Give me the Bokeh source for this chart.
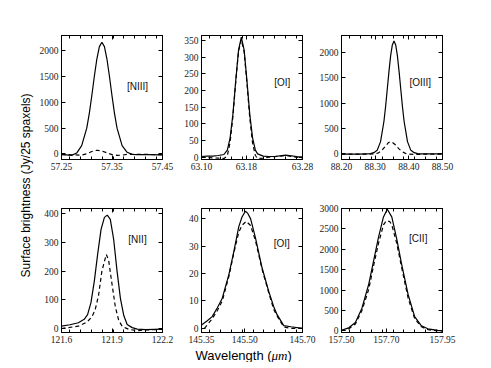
import numpy as np
from bokeh.plotting import figure
from bokeh.models import Range1d, FixedTicker, LinearAxis, Label, NumeralTickFormatter
from bokeh.layouts import row, column
from bokeh.embed import file_html
from bokeh.resources import INLINE

# ---------------- data ----------------
# Panel 1: [NIII] 57.3 um
nIII_x = [57.25, 57.26, 57.27, 57.28, 57.29, 57.30, 57.305, 57.31, 57.315, 57.32, 57.325, 57.33,
          57.335, 57.34, 57.345, 57.35, 57.355, 57.36, 57.37, 57.38, 57.39, 57.40, 57.42, 57.45]
nIII_solid = [-15, -20, -30, 15, 159, 499, 783, 1129, 1503, 1843, 2083, 2170,
              2083, 1843, 1503, 1129, 783, 499, 159, 30, -10, -15, -15, -20]
nIII_xd = [57.25, 57.27, 57.29, 57.30, 57.31, 57.32, 57.33, 57.34, 57.35, 57.36, 57.37, 57.38, 57.40, 57.45]
nIII_dash = [-10, -20, -25, 0, 45, 70, 55, 20, -15, -30, -25, -10, -10, -15]

# Panel 2: [OI] 63 um
oI63_x = [63.10, 63.11, 63.12, 63.13, 63.14, 63.146, 63.151, 63.156, 63.161, 63.166, 63.171, 63.176,
          63.181, 63.186, 63.191, 63.196, 63.20, 63.21, 63.22, 63.23, 63.24, 63.25, 63.26, 63.27, 63.28]
oI63_solid = [2, 3, 3, 5, 8, 21, 58, 129, 229, 321, 360, 321,
              229, 129, 58, 21, 10, 3, 2, 2, 4, 6, 4, 2, 1]
oI63_xd = [63.10, 63.12, 63.13, 63.14, 63.146, 63.151, 63.156, 63.161, 63.166, 63.171, 63.176, 63.181,
           63.186, 63.191, 63.196, 63.20, 63.21, 63.22, 63.24, 63.25, 63.26, 63.28]
oI63_dash = [0, -2, -3, -4, 4, 45, 122, 226, 318, 352, 316, 222,
             118, 42, 5, -4, -3, 0, 3, 5, 2, -2]

# Panel 3: [OIII] 88 um
oIII_x = [88.20, 88.25, 88.276, 88.286, 88.296, 88.306, 88.316, 88.326, 88.331, 88.336, 88.341, 88.346,
          88.351, 88.356, 88.361, 88.366, 88.371, 88.376, 88.381, 88.386, 88.396, 88.406, 88.416,
          88.426, 88.436, 88.46, 88.50]
oIII_solid = [-5, -5, 2, 5, 25, 70, 242, 638, 934, 1276, 1625, 1933,
              2144, 2220, 2144, 1933, 1625, 1276, 934, 638, 242, 70, 25, 5, 2, 0, 0]
oIII_xd = [88.20, 88.28, 88.30, 88.31, 88.32, 88.33, 88.34, 88.345, 88.35, 88.36, 88.37, 88.38,
           88.39, 88.40, 88.42, 88.45, 88.50]
oIII_dash = [-5, -5, 0, 20, 70, 150, 225, 240, 232, 180, 105, 45, 10, -5, -10, -5, -5]

# Panel 4: [NII] 122 um
nII_x = [121.60, 121.65, 121.70, 121.735, 121.755, 121.775, 121.795, 121.815, 121.835, 121.855, 121.872,
         121.89, 121.91, 121.93, 121.95, 121.97, 121.99, 122.02, 122.05, 122.10, 122.15, 122.20]
nII_solid = [8, 13, 20, 32, 48, 90, 165, 260, 345, 387, 395,
             380, 310, 200, 105, 45, 14, 3, -2, -4, -3, -2]
nII_xd = [121.60, 121.70, 121.75, 121.78, 121.80, 121.82, 121.84, 121.866, 121.88, 121.90, 121.92,
          121.94, 121.96, 121.98, 122.00, 122.05, 122.10, 122.20]
nII_dash = [0, 8, 22, 40, 65, 115, 200, 258, 238, 155, 75, 28, 8, 2, -3, -8, -5, -3]

# Panel 5: [OI] 145 um
oI145_x = [145.35, 145.37, 145.387, 145.405, 145.422, 145.445, 145.462, 145.479, 145.49, 145.502,
           145.51, 145.52, 145.537, 145.56, 145.583, 145.60, 145.612, 145.635, 145.66, 145.70]
oI145_solid = [1.2, 2.8, 4.3, 7.5, 11, 19.7, 28, 37, 40.5, 42.7,
               42, 40, 33, 22, 13.5, 8, 5, 1, 0.6, 0]
oI145_xd = [145.36, 145.387, 145.405, 145.422, 145.445, 145.462, 145.479, 145.49, 145.505,
            145.52, 145.537, 145.56, 145.583, 145.60, 145.612, 145.635, 145.66, 145.70]
oI145_dash = [0, 3.5, 6.5, 10, 19, 27.5, 35, 37.5, 39, 37.5, 32, 21.5, 13, 7, 4.5, 0.5, 0, 0]

# Panel 6: [CII] 158 um
cII_x = [157.50, 157.532, 157.562, 157.591, 157.621, 157.643, 157.665, 157.687, 157.704,
         157.724, 157.746, 157.768, 157.797, 157.826, 157.856, 157.885, 157.929, 157.95]
cII_solid = [15, 75, 207, 556, 1136, 1716, 2297, 2794, 2980,
             2794, 2255, 1633, 887, 348, 124, 50, 10, 0]
cII_xd = [157.50, 157.53, 157.562, 157.591, 157.621, 157.643, 157.665, 157.687, 157.70, 157.715,
          157.724, 157.746, 157.768, 157.797, 157.826, 157.856, 157.885, 157.92, 157.95]
cII_dash = [5, 40, 170, 500, 1010, 1600, 2150, 2600, 2700, 2680,
            2600, 2150, 1550, 800, 300, 100, 30, 5, 0]

# tick values
xt1 = [57.25, 57.35, 57.45]
xt2 = [63.10, 63.18, 63.28]
xt3 = [88.20, 88.30, 88.40, 88.50]
xt4 = [121.6, 121.9, 122.2]
xt5 = [145.35, 145.50, 145.70]
xt6 = [157.50, 157.70, 157.95]
yt1 = [0, 500, 1000, 1500, 2000]
yt2 = [0, 50, 100, 150, 200, 250, 300, 350]
yt3 = [0, 500, 1000, 1500, 2000]
yt4 = [0, 100, 200, 300, 400]
yt5 = [0, 10, 20, 30, 40]
yt6 = [0, 500, 1000, 1500, 2000, 2500, 3000]

names = ["[NIII]", "[OI]", "[OIII]", "[NII]", "[OI]", "[CII]"]

TICK_FONT = "Liberation Serif"
SANS = "Liberation Sans"

FW, FH = 101, 124          # frame size of every panel
L, R, R3 = 25, 14, 20      # left / right borders
T1, B1, T2, B2 = 35, 20, 29, 16
W0 = 36                    # width of the y-label strip
HX = 14                    # height of the x-label strip


def minor_positions(lo, hi):
    # small unlabelled ticks along the top and bottom edges (about every 11 px)
    span = hi - lo
    return [lo + (0.082 + 0.107 * k) * span for k in range(9)]


def style_axis(ax, ticks, minor=None, fmt=None):
    ax.ticker = FixedTicker(ticks=ticks, minor_ticks=minor or [])
    ax.major_tick_in = 4
    ax.major_tick_out = 0
    ax.minor_tick_in = 3 if minor else 0
    ax.minor_tick_out = 0
    ax.axis_line_color = "black"
    ax.major_tick_line_color = "black"
    ax.minor_tick_line_color = "black"
    if fmt is not None:
        ax.formatter = NumeralTickFormatter(format=fmt)
        ax.major_label_text_font = TICK_FONT
        ax.major_label_text_font_size = "9.5px"
        ax.major_label_text_color = "#222222"
        ax.major_label_standoff = 3
    else:
        ax.major_label_text_font_size = "0px"
        ax.major_label_text_color = None
        ax.major_label_standoff = 0


def panel(xs, ys, xd, yd, xr, yr, xt, xfmt, yt, name, npos, left, right, top, bottom):
    p = figure(width=left + FW + right, height=top + FH + bottom,
               x_range=Range1d(*xr), y_range=Range1d(*yr),
               output_backend="svg", toolbar_location=None,
               x_axis_type=None, y_axis_type=None,
               min_border=0,
               min_border_left=left, min_border_right=right,
               min_border_top=top, min_border_bottom=bottom)
    p.outline_line_color = "black"
    p.outline_line_width = 1
    p.background_fill_color = "white"
    p.border_fill_color = "white"

    mx = minor_positions(*xr)
    xb = LinearAxis(); style_axis(xb, xt, mx, xfmt); p.add_layout(xb, "below")
    xa = LinearAxis(); style_axis(xa, xt, mx); p.add_layout(xa, "above")
    yl = LinearAxis(); style_axis(yl, yt, None, "0"); p.add_layout(yl, "left")
    yrr = LinearAxis(); style_axis(yrr, yt); p.add_layout(yrr, "right")

    p.line(xs, ys, line_color="black", line_width=1.2)
    p.line(xd, yd, line_color="black", line_width=1.2, line_dash="4 3")
    p.add_layout(Label(x=npos[0], y=npos[1], text=name, text_font=SANS,
                       text_font_size="10px", text_align="center",
                       text_baseline="middle", text_color="#111111"))
    return p


p1 = panel(nIII_x, nIII_solid, nIII_xd, nIII_dash, (57.25, 57.45), (-110, 2300), xt1, "0.00", yt1,
           names[0], (57.4005, 1315), L, R, T1, B1)
p2 = panel(oI63_x, oI63_solid, oI63_xd, oI63_dash, (63.10, 63.28), (-7, 365), xt2, "0.00", yt2,
           names[1], (63.2438, 224), L, R, T1, B1)
p3 = panel(oIII_x, oIII_solid, oIII_xd, oIII_dash, (88.20, 88.50), (-110, 2330), xt3, "0.00", yt3,
           names[2], (88.4338, 1411), L, R3, T1, B1)
p4 = panel(nII_x, nII_solid, nII_xd, nII_dash, (121.6, 122.2), (-14, 418), xt4, "0.0", yt4,
           names[3], (122.0515, 310), L, R, T2, B2)
p5 = panel(oI145_x, oI145_solid, oI145_xd, oI145_dash, (145.35, 145.70), (-1.5, 43.7), xt5, "0.00", yt5,
           names[4], (145.628, 31.1), L, R, T2, B2)
p6 = panel(cII_x, cII_solid, cII_xd, cII_dash, (157.50, 157.95), (-40, 3000), xt6, "0.00", yt6,
           names[5], (157.842, 2265), L, R3, T2, B2)

WCOL = 2 * (L + FW + R) + (L + FW + R3)

# x label strip (pixel-like ranges, origin bottom-left of the strip)
xlab = figure(width=WCOL, height=HX, x_range=Range1d(0, WCOL), y_range=Range1d(0, HX),
              output_backend="svg", toolbar_location=None, x_axis_type=None, y_axis_type=None,
              min_border=0)
xlab.outline_line_color = None
for txt, ax_x, font, style in [("Wavelength (", 195, SANS, "normal"),
                               ("\u03bcm", 271, TICK_FONT, "italic"),
                               (")", 287, SANS, "normal")]:
    xlab.add_layout(Label(x=ax_x - W0, y=HX / 2, text=txt,
                          text_font=font, text_font_style=style, text_font_size="13px",
                          text_align="left", text_baseline="middle", text_color="black"))

# y label strip
H = (T1 + FH + B1) + (T2 + FH + B2) + HX
ylab = figure(width=W0, height=H, x_range=Range1d(0, W0), y_range=Range1d(0, H),
              output_backend="svg", toolbar_location=None, x_axis_type=None, y_axis_type=None,
              min_border=0)
ylab.outline_line_color = None
ylab.add_layout(Label(x=25, y=H - 185, text="Surface brightness (Jy/25 spaxels)",
                      angle=np.pi / 2, text_align="center", text_baseline="middle",
                      text_font=SANS, text_font_size="12px", text_color="black"))

layout = row(ylab, column(row(p1, p2, p3), row(p4, p5, p6), xlab))

open("out.html", "w").write(file_html(layout, INLINE))
